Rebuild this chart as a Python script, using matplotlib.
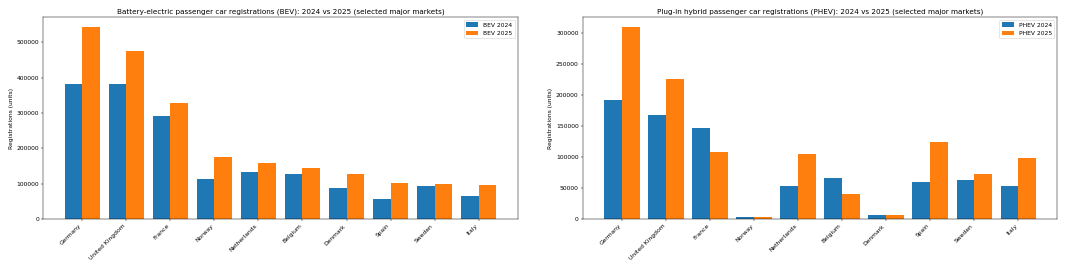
import matplotlib.pyplot as plt
import numpy as np

countries = ["Germany", "United Kingdom", "France", "Norway", "Netherlands",
             "Belgium", "Denmark", "Spain", "Sweden", "Italy"]

# Battery-electric registrations
bev_2024 = [381000, 381000, 291000, 114000, 132000, 128000, 89000, 57000, 94000, 66000]
bev_2025 = [544000, 474000, 327000, 174000, 157000, 144000, 127000, 102000, 100000, 95000]

# Plug-in hybrid registrations
phev_2024 = [191000, 167000, 147000, 3000, 53000, 66000, 7000, 59000, 63000, 53000]
phev_2025 = [310000, 225000, 108000, 2500, 104000, 40000, 6000, 124000, 73000, 98000]

x = np.arange(len(countries))
width = 0.4

fig, ax = plt.subplots(nrows=1, ncols=2, figsize=(25, 6.25), dpi=43.2)

panels = [
    (ax[0], bev_2024, bev_2025, "BEV",
     "Battery-electric passenger car registrations (BEV): 2024 vs 2025 (selected major markets)"),
    (ax[1], phev_2024, phev_2025, "PHEV",
     "Plug-in hybrid passenger car registrations (PHEV): 2024 vs 2025 (selected major markets)"),
]

for a, v24, v25, tag, title in panels:
    a.bar(x - width / 2, v24, width, label=f"{tag} 2024", color="#1f77b4")
    a.bar(x + width / 2, v25, width, label=f"{tag} 2025", color="#ff7f0e")
    a.set_xticks(x)
    a.set_xticklabels(countries, rotation=45, ha="right")
    a.set_ylabel("Registrations (units)")
    a.set_title(title)
    a.legend(loc="upper right")

plt.subplots_adjust(left=0.040, right=0.979, top=0.937, bottom=0.189, wspace=0.137)
plt.savefig("out.png", dpi=43.2)
